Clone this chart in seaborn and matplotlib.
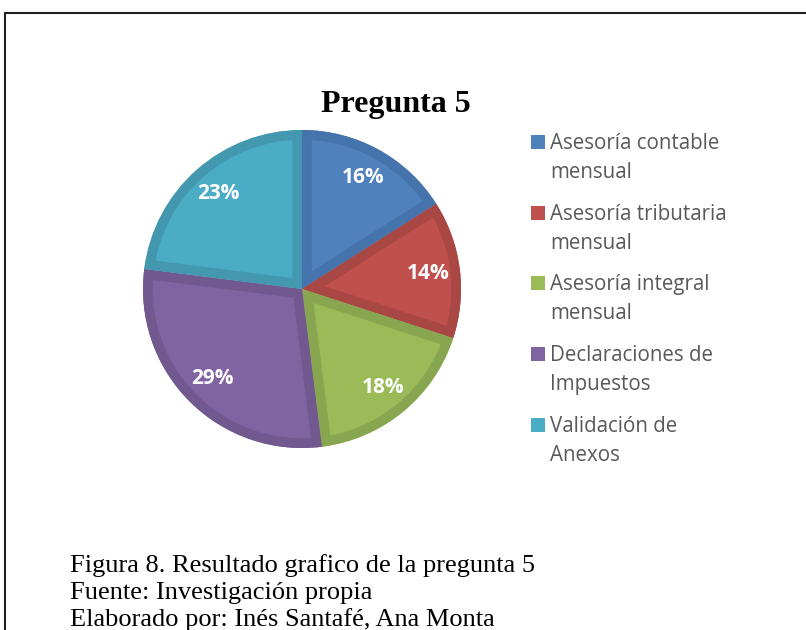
import matplotlib
matplotlib.use("Agg")
import matplotlib.pyplot as plt
import seaborn as sns
from matplotlib.patches import Rectangle, PathPatch

sns.set_theme(style="white")
plt.rcParams['font.family'] = ['Open Sans', 'DejaVu Sans']

# data
categories = ["Asesoría contable\nmensual", "Asesoría tributaria\nmensual",
              "Asesoría integral\nmensual", "Declaraciones de\nImpuestos",
              "Validación de\nAnexos"]
values = [16, 14, 18, 29, 23]
title = "Pregunta 5"
caption = ["Figura 8. Resultado grafico de la pregunta 5",
           "Fuente: Investigación propia",
           "Elaborado por: Inés Santafé, Ana Monta"]

fills = ["#4F81BD", "#C0504D", "#9BBB59", "#8064A2", "#4BACC6"]
borders = ["#4573AB", "#A94744", "#88A64F", "#71598F", "#4398AF"]

W, H = 806, 630
fig = plt.figure(figsize=(W / 100, H / 100), dpi=100)
fig.patch.set_facecolor("white")

def fx(px):
    return px / W

def fy(py):
    return 1 - py / H

# outer frame (continues past right/bottom edge)
fig.patches.append(Rectangle((fx(5), fy(H + 20)), 1.2, fy(13) - fy(H + 20),
                             transform=fig.transFigure, fill=False,
                             edgecolor="#202020", linewidth=1.5))

# pie
cx, cy, r = 302, 289, 159
ax = fig.add_axes([fx(cx - r), fy(cy + r), 2 * r / W, 2 * r / H])
wedges, texts, autotexts = ax.pie(
    values, colors=fills, startangle=90, counterclock=False,
    autopct=lambda p: f"{p:.0f}%", pctdistance=0.8,
    wedgeprops=dict(linewidth=0),
    textprops=dict(color="white", fontsize=15, fontweight="bold"))
# inner darker rim, clipped to each slice (Excel-style bevel)
for w, bc in zip(wedges, borders):
    rim = PathPatch(w.get_path(), transform=ax.transData, facecolor="none",
                    edgecolor=bc, linewidth=14, joinstyle="miter")
    ax.add_patch(rim)
    rim.set_clip_path(w.get_path(), ax.transData)
for t in autotexts:
    t.set_zorder(5)
ax.set_xlim(-1, 1)
ax.set_ylim(-1, 1)
ax.set_aspect("equal")
ax.axis("off")

fig.text(fx(396), fy(112), title, ha="center", va="baseline",
         fontsize=23, fontweight="bold", family="Liberation Serif", color="black")

# legend
for i, (lab, w) in enumerate(zip(categories, wedges)):
    base = 149 + i * 70.7
    fig.patches.append(Rectangle((fx(531), fy(base)), 14 / W, 14 / H,
                                 transform=fig.transFigure,
                                 facecolor=w.get_facecolor(), edgecolor="none"))
    for j, line in enumerate(lab.split("\n")):
        fig.text(fx(550), fy(base + j * 29), line, ha="left", va="baseline",
                 fontsize=14.8, color="#595959")

# caption
for k, line in enumerate(caption):
    fig.text(fx(70), fy(572 + k * 27), line, ha="left", va="baseline",
             fontsize=19, family="Liberation Serif", color="black")

fig.savefig("out.png", dpi=100, facecolor="white")
